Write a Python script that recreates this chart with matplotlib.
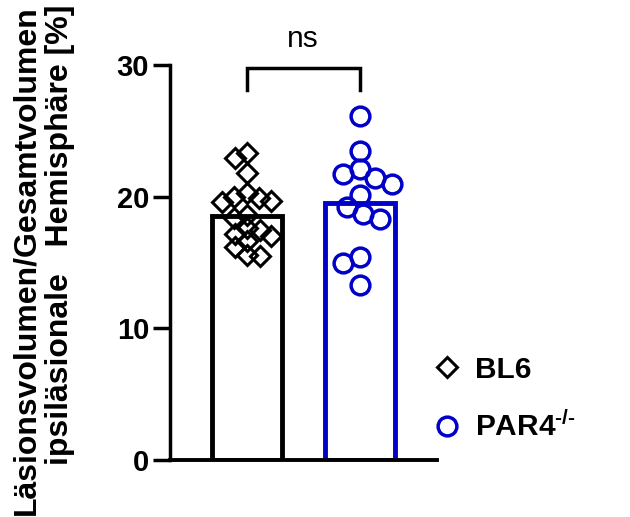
import numpy as np
import matplotlib
matplotlib.use('Agg')
import matplotlib.pyplot as plt

plt.rcParams['font.family'] = ['Liberation Sans', 'DejaVu Sans']
plt.rcParams['mathtext.fontset'] = 'custom'
plt.rcParams['mathtext.rm'] = 'Liberation Sans:bold'
plt.rcParams['mathtext.it'] = 'Liberation Sans:bold'
plt.rcParams['mathtext.bf'] = 'Liberation Sans:bold'

# Data
groups = ['BL6', r'PAR4$^{\text{-/-}}$']
bar_heights = [18.5, 19.5]
bl6_values = [23.3, 22.9, 21.8, 20.3, 20.0, 19.9, 19.7, 19.6, 18.6,
              18.4, 17.6, 17.5, 17.2, 17.0, 16.6, 16.2, 15.6, 15.5]
par4_values = [26.1, 23.5, 22.1, 21.7, 21.4, 21.0, 20.1, 19.2, 18.7,
               18.3, 15.4, 15.0, 13.3]
yticks = [0, 10, 20, 30]
colors = ['black', '#0000C8']


def swarm_x(ax, values, center, min_px):
    # simple beeswarm: put each point as near the centre as it can go without overlap
    trans = ax.transData
    px_per_x = trans.transform((1, 0))[0] - trans.transform((0, 0))[0]
    ys = [trans.transform((center, v))[1] for v in values]
    placed = []
    xs = []
    for y in ys:
        cands = [0.0]
        for px, py in placed:
            dy = y - py
            if abs(dy) < min_px:
                dx = np.sqrt(min_px ** 2 - dy ** 2)
                cands += [px - dx, px + dx]
        cands.sort(key=abs)
        for c in cands:
            if all((c - px) ** 2 + (y - py) ** 2 >= min_px ** 2 - 1e-6 for px, py in placed):
                break
        placed.append((c, y))
        xs.append(center + c / px_per_x)
    return xs


fig = plt.figure(figsize=(6.3, 5.17), dpi=100)
ax = fig.add_axes([170 / 630, 1 - 460 / 517, 267 / 630, 395 / 517])
ax.set_xlim(-0.677, 1.68)
ax.set_ylim(0, 30)

x = np.arange(len(groups))
ax.bar(x, bar_heights, width=0.618, color='white', edgecolor=colors,
       linewidth=3.5, zorder=2)

xs_bl6 = swarm_x(ax, bl6_values, 0, 13)
xs_par4 = swarm_x(ax, par4_values, 1, 17.5)
h1, = ax.plot(xs_bl6, bl6_values, 'D', ms=9.7, mfc='none', mec=colors[0],
              mew=2.2, zorder=3, clip_on=False, label=groups[0])
h2, = ax.plot(xs_par4, par4_values, 'o', ms=13.5, mfc='none', mec=colors[1],
              mew=2.5, zorder=3, clip_on=False, label=groups[1])

# significance bracket
ax.plot([0, 0, 1, 1], [28.1, 29.75, 29.75, 28.1], color='black', lw=2.5,
        clip_on=False, solid_joinstyle='miter')
ax.text(0.5, 31.4, 'ns', ha='center', va='baseline', fontsize=21.5, clip_on=False)

for s in ['top', 'right']:
    ax.spines[s].set_visible(False)
ax.spines['left'].set_linewidth(2.5)
ax.spines['bottom'].set_linewidth(2.8)
ax.set_xticks([])
ax.set_yticks(yticks)
ax.tick_params(axis='y', length=12, width=2.5, pad=3, labelsize=21)
for lab in ax.get_yticklabels():
    lab.set_fontweight('bold')

fig.text(43 / 630, 1 - 5 / 517,
         'Läsionsvolumen/Gesamtvolumen\nipsiläsionale   Hemisphäre [%]',
         rotation=90, ha='center', va='top', multialignment='right',
         fontsize=23, fontweight='bold', linespacing=1.15)

fig.legend(handles=[h1, h2], loc='center left',
           bbox_to_anchor=(432 / 630, 1 - 399 / 517), frameon=False,
           borderpad=0, borderaxespad=0, handlelength=1.0, handletextpad=0.45,
           labelspacing=0.95, numpoints=1,
           prop={'size': 21.5, 'weight': 'bold'})

fig.savefig('out.png', dpi=100)
